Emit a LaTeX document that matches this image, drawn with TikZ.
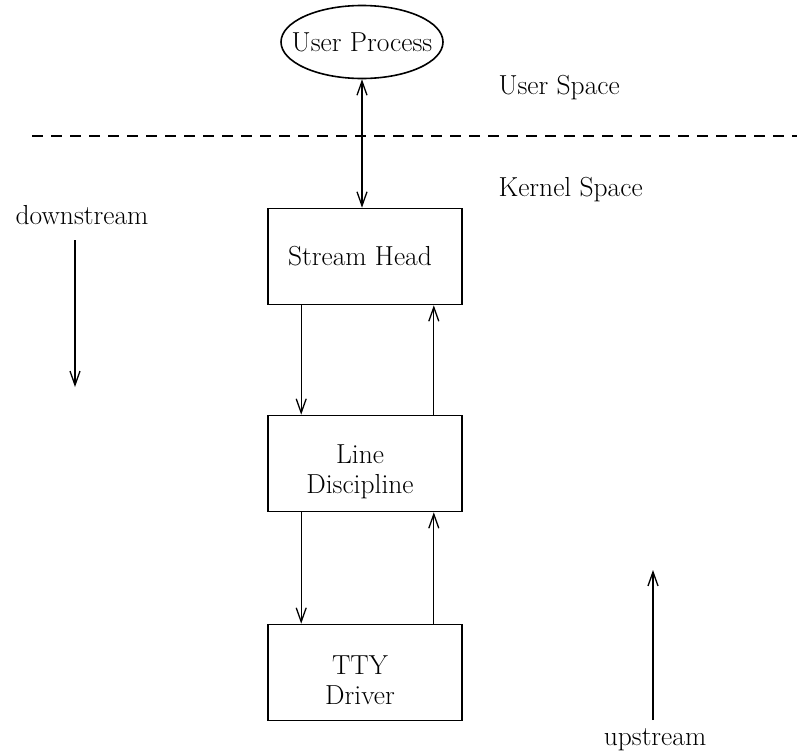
\documentclass[tikz,border=0pt]{standalone}
\usepackage{fontspec}
\usepackage{tikz}
\usetikzlibrary{arrows.meta,shapes.geometric}

\begin{document}
\begin{tikzpicture}[x=1pt,y=-1pt,
  font=\fontsize{27.5}{30}\selectfont,
  box/.style={draw,line width=1.6pt,minimum width=194pt,minimum height=96pt,inner sep=0pt},
  boxtext/.style={align=center,inner sep=0pt},
  flow/.style={line width=1.3pt,-{Straight Barb[length=14pt,width=10pt,line width=1.3pt]}},
  twoway/.style={line width=1.3pt,{Straight Barb[length=14pt,width=10pt,line width=1.3pt]}-{Straight Barb[length=14pt,width=10pt,line width=1.3pt]}}]
\useasboundingbox (0,0) rectangle (797,755);
% user side
\node[draw,ellipse,line width=1.6pt,minimum height=73pt,inner xsep=-13pt,inner ysep=0pt] (proc) at (362,42) {User Process};
\node[anchor=west] (uspace) at (495,88) {User Space};
\draw[line width=1.6pt,dash pattern=on 11pt off 8pt] (32,136) -- (797,136);
\node[anchor=west] (kspace) at (495,190) {Kernel Space};
% stream modules
\node[box] (head) at (365,256.5) {};
\node[box] (disc) at (365,463.5) {};
\node[box] (tty) at (365,672.5) {};
\node[boxtext] (headtxt) at ([xshift=-5pt]head.center) {Stream Head};
\node[boxtext] (disctxt) at ([xshift=-5pt,yshift=-8pt]disc.center) {Line\\Discipline};
\node[boxtext] (ttytxt) at ([xshift=-5pt,yshift=-8pt]tty.center) {TTY\\Driver};
\draw[twoway] (proc.south) -- (proc.south |- head.north);
\draw[flow] ([xshift=34pt]head.south west) -- ([xshift=34pt]disc.north west);
\draw[flow] ([xshift=-29pt]disc.north east) -- ([xshift=-29pt]head.south east);
\draw[flow] ([xshift=34pt]disc.south west) -- ([xshift=34pt]tty.north west);
\draw[flow] ([xshift=-29pt]tty.north east) -- ([xshift=-29pt]disc.south east);
% directions
\node (down) at (82,215) {downstream};
\coordinate (dtop) at (75,240);
\coordinate (dbot) at (75,387);
\draw[flow] (dtop) -- (dbot);
\node (up) at (655,740) {upstream};
\coordinate (ubot) at (653,720);
\coordinate (utop) at (653,570);
\draw[flow] (ubot) -- (utop);
\end{tikzpicture}
\end{document}
